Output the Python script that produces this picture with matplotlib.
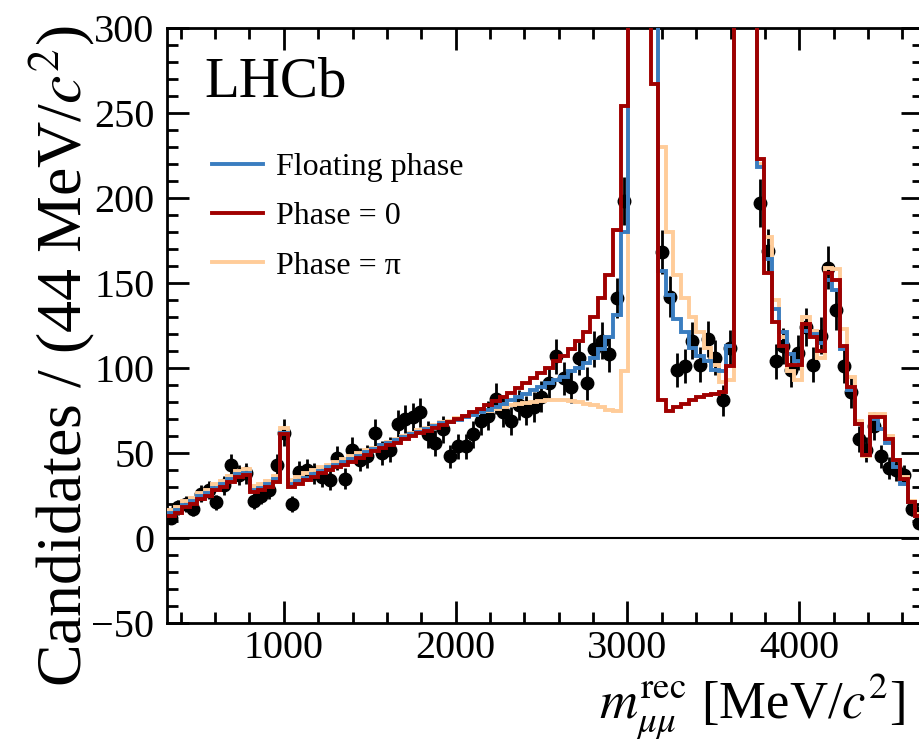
import numpy as np
import matplotlib
matplotlib.use("Agg")
import matplotlib.pyplot as plt
from matplotlib.ticker import MultipleLocator

plt.rcParams["font.family"] = "serif"
plt.rcParams["font.serif"] = ["Liberation Serif", "STIXGeneral"]
plt.rcParams["mathtext.fontset"] = "stix"

# 100 bins of 44 MeV from 320 to 4720
edges = np.arange(320, 4720 + 1, 44)
centres = edges[:-1] + 22

# data counts (off-scale bins near J/psi and psi(2S) kept large)
data = [12, 18, 20, 17, 26, 28, 21, 31, 43, 37,
        38, 22, 25, 28, 43, 62, 20, 39, 40, 38,
        36, 34, 47, 35, 52, 46, 48, 62, 50, 52,
        67, 70, 71, 74, 61, 56, 64, 48, 54, 54,
        61, 69, 72, 82, 74, 69, 78, 75, 77, 83,
        91, 107, 94, 89, 106, 91, 111, 116, 108, 141,
        198, 900, 2600, 1100, 420, 168, 142, 99, 101, 116,
        102, 117, 106, 81, 112, 520, 1400, 600, 197, 169,
        104, 113, 99, 109, 124, 102, 119, 159, 134, 101,
        86, 58, 52, 66, 48, 41, 40, 37, 17, 9]

phase_zero = [13, 15, 18, 20, 23, 25, 28, 30, 33, 36,
              37, 27, 28, 30, 33, 61, 30, 32, 34, 36,
              38, 40, 41.5, 43, 45, 47, 49, 51, 53, 54.5,
              56, 58, 60, 61.5, 63, 65, 66.5, 68, 70, 72,
              74, 76, 78, 80.5, 83, 85.5, 88, 91, 94, 97,
              100, 104, 107, 111, 116, 121, 130, 141, 155, 181,
              254, 800, 2000, 900, 267, 81, 75, 77, 79, 81,
              83, 84, 85, 86, 101, 600, 1200, 500, 223, 156,
              127, 113, 102, 102, 126, 118, 110, 156, 152, 113,
              89, 67, 49, 71, 71, 58, 46, 35, 21, 13]

floating = [14.5, 16.5, 19.5, 21.5, 24.5, 26.5, 29.5, 31.5, 34.5, 37.5,
            38.5, 28.5, 29.5, 31.5, 34.5, 62, 31.5, 33.5, 35.5, 37.5,
            39.5, 41.5, 43, 44.5, 46.5, 48.5, 50.5, 52.5, 54.5, 56,
            57.5, 59.5, 61, 62.5, 64, 66, 67.5, 68, 69.5, 71,
            72.5, 74, 75.5, 77, 79, 81, 83, 85, 87, 89,
            91, 93, 95, 98, 100, 103, 106, 111, 118, 131,
            180, 700, 1800, 800, 400, 157, 143, 129, 121, 112,
            107, 104, 99, 98, 113, 550, 1100, 450, 218, 164,
            135, 121, 108, 104, 122, 120, 115, 152, 146, 111,
            87, 67, 49, 70, 64, 56, 42, 32, 21, 13]

phase_pi = [16.5, 18.5, 21.5, 23.5, 26.5, 28.5, 31.5, 33.5, 36.5, 39.5,
            40.5, 30.5, 31.5, 33.5, 36.5, 64.5, 34, 36, 38, 40,
            41.5, 43, 45, 46.5, 48, 50, 51.5, 53, 55, 56.5,
            58, 60, 62, 63.5, 65, 66.5, 68, 69, 70.5, 72,
            73, 74, 75, 76, 77, 78, 79, 79.5, 80, 80.5,
            81, 81, 81, 80.5, 80, 79, 78, 77, 75.5, 75,
            98, 750, 1900, 850, 500, 230, 180, 155, 141, 130,
            121, 112, 102, 92, 93, 580, 1150, 480, 220, 177,
            140, 118, 98, 93, 130, 122, 106, 159, 158, 123,
            95, 69, 48, 73, 73, 60, 46, 36, 22, 14]

data = np.array(data, dtype=float)

fig = plt.figure(figsize=(9.19, 7.43), dpi=100)
ax = fig.add_axes([0.1817, 0.1615, 0.8226, 0.8008])

ax.errorbar(centres, data, yerr=np.sqrt(data), fmt="o", color="black",
            markersize=9, elinewidth=2, capsize=0, zorder=2)
ax.stairs(phase_pi, edges, baseline=None, color="#ffcc99", lw=2.8, zorder=3, label="Phase = \u03c0")
ax.stairs(floating, edges, baseline=None, color="#3a7dc0", lw=2.8, zorder=4, label="Floating phase")
ax.stairs(phase_zero, edges, baseline=None, color="#a00000", lw=2.8, zorder=5, label="Phase = 0")
ax.axhline(0, color="black", lw=1.5, zorder=1)

ax.set_xlim(320, 4720)
ax.set_ylim(-50, 300)
ax.xaxis.set_major_locator(MultipleLocator(1000))
ax.xaxis.set_minor_locator(MultipleLocator(200))
ax.yaxis.set_major_locator(MultipleLocator(50))
ax.yaxis.set_minor_locator(MultipleLocator(10))
ax.tick_params(which="both", direction="in", top=True, right=True, labelsize=29)
ax.tick_params(axis="y", pad=9)
ax.tick_params(axis="x", pad=5)
ax.tick_params(which="major", length=16, width=2)
ax.tick_params(which="minor", length=8, width=2)
for s in ax.spines.values():
    s.set_linewidth(2)

handles, labels = ax.get_legend_handles_labels()
order = [1, 2, 0]
ax.legend([handles[i] for i in order], [labels[i] for i in order],
          loc="upper left", bbox_to_anchor=(0.06, 0.79), frameon=False,
          fontsize=23, handlelength=1.6, handletextpad=0.4, labelspacing=0.62,
          borderpad=0, borderaxespad=0)

ax.text(0.05, 0.885, "LHCb", transform=ax.transAxes, fontsize=41, va="baseline")

fig.text(0.067, 0.52, "Candidates / (44 MeV/$c^2$)", rotation=90,
         ha="center", va="center", fontsize=46)
fig.text(0.985, 0.003, "$m_{\\mu\\mu}^{\\rm rec}$ [MeV/$c^2$]",
         ha="right", va="bottom", fontsize=38)

fig.savefig("out.png", dpi=100)
